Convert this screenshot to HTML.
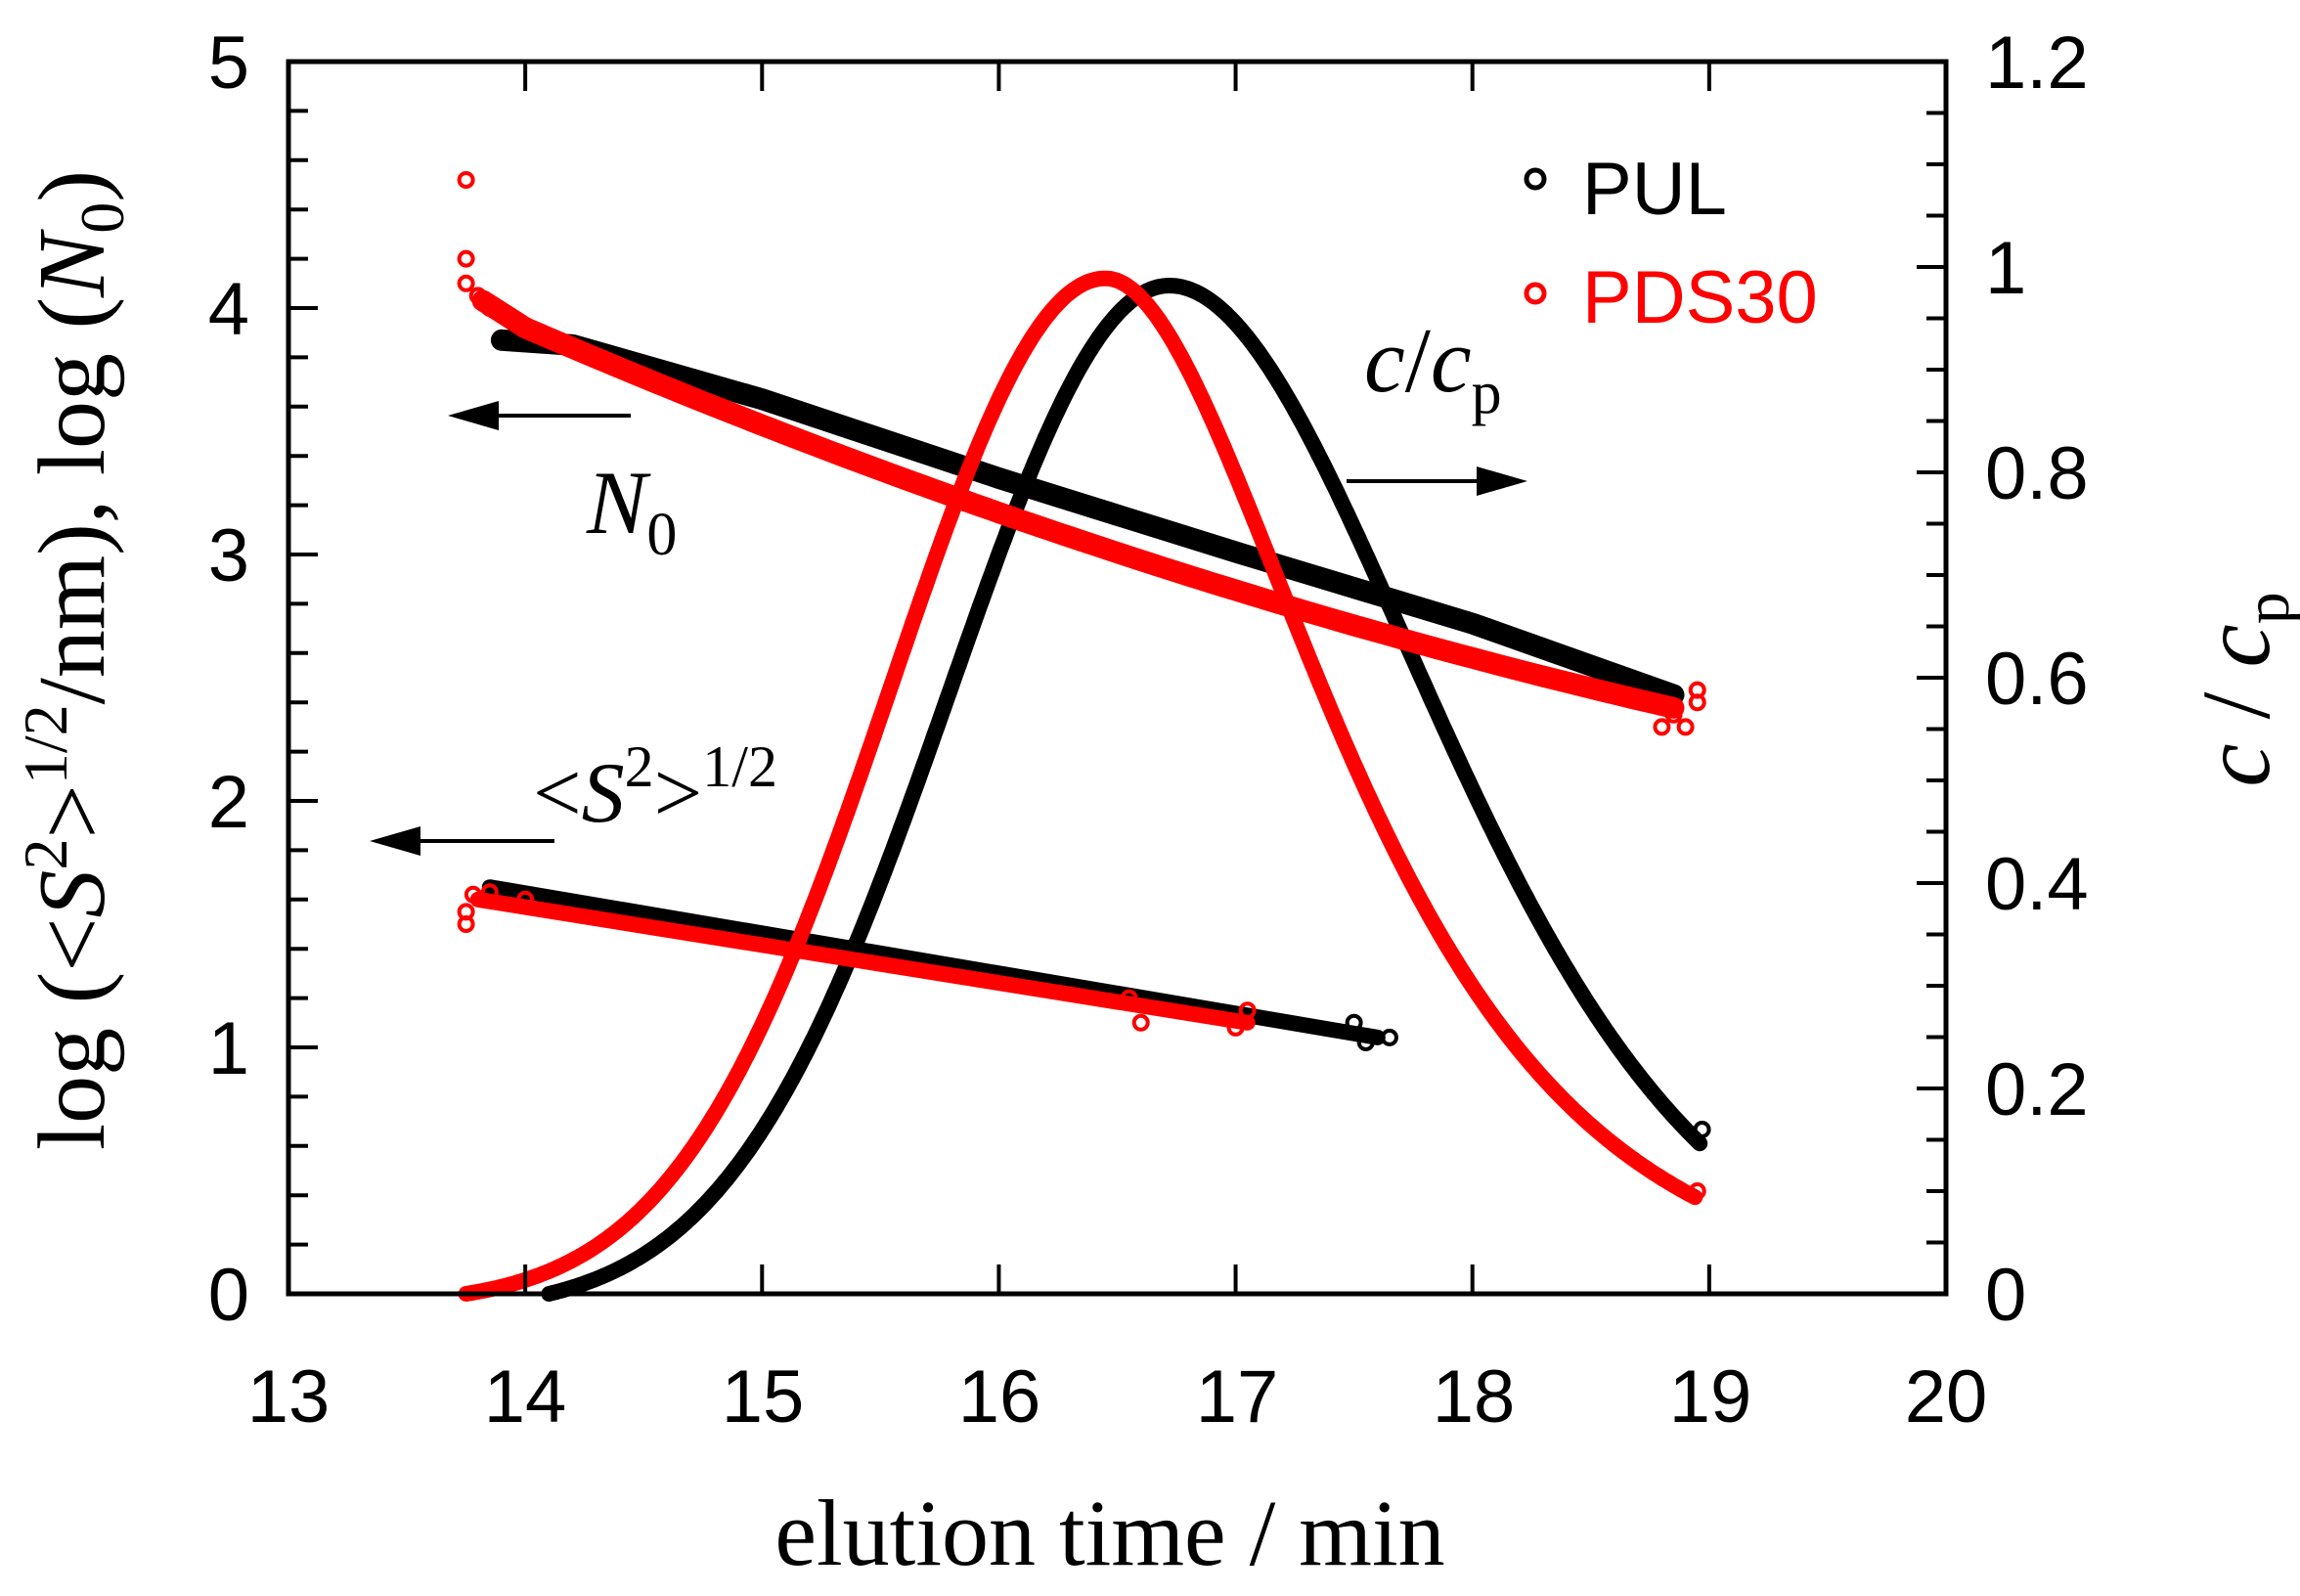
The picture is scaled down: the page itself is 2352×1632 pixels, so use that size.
<!DOCTYPE html>
<html><head><meta charset="utf-8"><style>
html,body{margin:0;padding:0;background:#fff}
svg{display:block}
.t{font-family:"Liberation Sans",sans-serif;font-size:76px;fill:#000}
.s{font-family:"Liberation Serif",serif;fill:#000}
</style></head><body>
<svg id="g" width="2352" height="1632" viewBox="0 0 2352 1632" xmlns="http://www.w3.org/2000/svg">
<rect width="2352" height="1632" fill="#fff"/>
<g id="data"></g>
<rect x="295" y="63" width="1695" height="1260" fill="none" stroke="#000" stroke-width="5"/>
<g id="ticks" stroke="#000" stroke-width="4"></g>
<g class="t" text-anchor="middle">
<text x="295" y="1454">13</text><text x="537" y="1454">14</text><text x="780" y="1454">15</text>
<text x="1022" y="1454">16</text><text x="1265" y="1454">17</text><text x="1507" y="1454">18</text>
<text x="1749" y="1454">19</text><text x="1990" y="1454">20</text>
</g>
<g class="t" text-anchor="end">
<text x="255" y="1350">0</text><text x="255" y="1098">1</text><text x="255" y="846">2</text>
<text x="255" y="594">3</text><text x="255" y="342">4</text><text x="255" y="90">5</text>
</g>
<g class="t" text-anchor="start">
<text x="2030" y="1350">0</text><text x="2030" y="1140">0.2</text><text x="2030" y="930">0.4</text>
<text x="2030" y="720">0.6</text><text x="2030" y="510">0.8</text><text x="2030" y="300">1</text>
<text x="2030" y="90">1.2</text>
</g>
<text class="s" x="1135" y="1600" font-size="96" text-anchor="middle">elution time / min</text>
<text class="s" font-size="98" transform="translate(106,675) rotate(-90)" text-anchor="middle">log (&lt;<tspan font-style="italic">S</tspan><tspan font-size="64" dy="-38">2</tspan><tspan dy="38">&gt;</tspan><tspan font-size="64" dy="-38">1/2</tspan><tspan dy="38">/nm),  log (</tspan><tspan font-style="italic">N</tspan><tspan font-size="64" dy="20">0</tspan><tspan dy="-20">)</tspan></text>
<text class="s" font-size="100" transform="translate(2320,705) rotate(-90)" text-anchor="middle" fill="#3a2a10"><tspan font-style="italic">c</tspan> / <tspan font-style="italic">c</tspan><tspan font-size="66" dy="20">p</tspan></text>
<text class="s" x="600" y="545" font-size="92" font-style="italic">N<tspan font-size="62" dy="22" font-style="normal">0</tspan></text>
<text class="s" x="1395" y="400" font-size="94"><tspan font-style="italic">c</tspan>/<tspan font-style="italic">c</tspan><tspan font-size="62" dy="22">p</tspan></text>
<text class="s" x="545" y="840" font-size="88">&lt;<tspan font-style="italic">S</tspan><tspan font-size="60" dy="-36">2</tspan><tspan dy="36">&gt;</tspan><tspan font-size="60" dy="-36">1/2</tspan></text>
<g stroke="#000" stroke-width="4">
<line x1="645" y1="425" x2="490" y2="425"/><line x1="1377" y1="492" x2="1530" y2="492"/><line x1="567" y1="860" x2="410" y2="860"/>
</g>
<g fill="#000">
<polygon points="458,425 510,410 510,440"/><polygon points="1562,492 1510,477 1510,507"/><polygon points="378,860 430,845 430,875"/>
</g>
<circle cx="1570" cy="183" r="9" fill="none" stroke="#000" stroke-width="5"/>
<text class="t" x="1618" y="219" font-size="98">PUL</text>
<circle cx="1570" cy="300" r="9" fill="none" stroke="#f00" stroke-width="5"/>
<text class="t" x="1618" y="330" font-size="98" style="fill:#f00">PDS30</text>
</svg>
<script>
const X=t=>295+(t-13)*242.14, Y=v=>1323-v*252, C=c=>1323-c*1050;
const ns="http://www.w3.org/2000/svg", D=document.getElementById('data'), T=document.getElementById('ticks');
function el(n,a,p){const e=document.createElementNS(ns,n);for(const k in a)e.setAttribute(k,a[k]);(p||D).appendChild(e);return e;}
function line(pts,col,w){el('polyline',{points:pts.map(p=>p[0].toFixed(1)+','+p[1].toFixed(1)).join(' '),fill:'none',stroke:col,'stroke-width':w,'stroke-linejoin':'round','stroke-linecap':'round'});}
function circ(x,y,col){el('circle',{cx:x,cy:y,r:7,fill:'none',stroke:col,'stroke-width':4});}
for(let t=14;t<=19;t++){el('line',{x1:X(t),y1:1323,x2:X(t),y2:1293},T);el('line',{x1:X(t),y1:63,x2:X(t),y2:93},T);}
for(let i=1;i<25;i++){const y=1323-i*50.4;el('line',{x1:295,y1:y,x2:i%5==0?325:315,y2:y},T);}
for(let i=1;i<24;i++){const y=1323-i*52.5;el('line',{x1:1990,y1:y,x2:i%4==0?1960:1970,y2:y},T);}
function pul(t){const dt=t-16.72;if(dt<0)return Math.exp(-0.5*(dt/0.925)**2);const s=1+0.08*dt;return Math.exp(-0.5*(dt/s)**2);}
function pds(t){const dt=t-16.45;if(dt<0)return Math.exp(-0.5*(dt/0.9)**2);const s=0.75+0.17*dt;return Math.exp(-0.5*(dt/s)**2);}
let a=[],b=[];
for(let t=14.1;t<=18.97;t+=0.01)a.push([X(t),C(Math.max(0,pul(t)-pul(14.1)))]);
for(let t=13.75;t<=18.95;t+=0.01)b.push([X(t),C(Math.max(0,pds(t)-pds(13.75)))]);
let n1=[[13.9,3.87],[14.2,3.85],[15,3.63],[16,3.31],[17,3.01],[18,2.72],[18.85,2.43]].map(p=>[X(p[0]),Y(p[1])]);
let n2=[[X(13.82),Y(4.03)]];
for(let t=14;t<=18.9;t+=0.05){const d=t-14;n2.push([X(t),Y(3.92-0.415*d+0.02*d*d)]);}
let s1=[[X(13.85),Y(1.65)],[X(17.6),Y(1.04)]];
let s2=[[X(13.8),Y(1.6)],[X(17.05),Y(1.1)]];
line(n1,'#000',22);line(s1,'#000',16);line(a,'#000',16);
line(n2,'#f00',22);line(s2,'#f00',16);line(b,'#f00',16);
circ(X(18.97),C(0.16),'#000');circ(X(18.95),C(0.1),'#f00');
[[13.75,4.52],[13.75,4.2],[13.75,4.1],[13.8,4.05],[13.85,4.0]].forEach(p=>circ(X(p[0]),Y(p[1]),'#f00'));
[[13.75,1.55],[13.75,1.5],[13.78,1.62],[13.85,1.63],[14.0,1.6]].forEach(p=>circ(X(p[0]),Y(p[1]),'#f00'));
[[18.8,2.3],[18.85,2.35],[18.95,2.4],[18.95,2.45],[18.9,2.3]].forEach(p=>circ(X(p[0]),Y(p[1]),'#f00'));
[[16.55,1.2],[16.6,1.1],[17.05,1.15],[17.0,1.08]].forEach(p=>circ(X(p[0]),Y(p[1]),'#f00'));
[[17.5,1.1],[17.65,1.04],[17.55,1.02]].forEach(p=>circ(X(p[0]),Y(p[1]),'#000'));
</script>
</body></html>
